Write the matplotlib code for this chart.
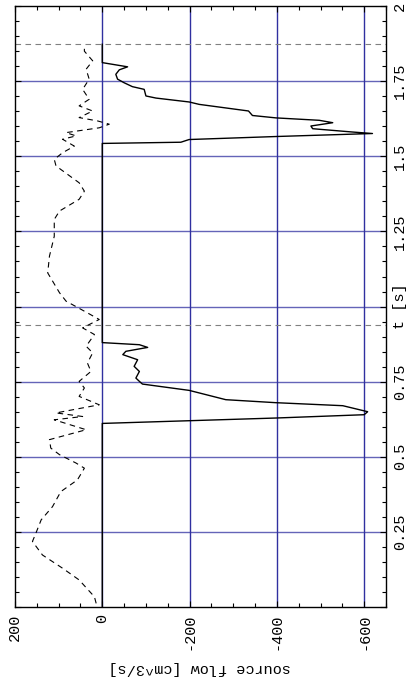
import numpy as np
import matplotlib
matplotlib.use('Agg')
import matplotlib.pyplot as plt

GRID = '#3030a0'
plt.rcParams['font.family'] = ['Liberation Mono', 'DejaVu Sans Mono']
plt.rcParams['axes.unicode_minus'] = False

# ── data: time [s] / source flow [cm^3/s] ────────────────────────────────────
# solid trace: outflow pulses (negative), zero in between
t_solid = [0.0, 0.611, 0.620, 0.629, 0.640, 0.650, 0.670, 0.680, 0.690, 0.707,
           0.721, 0.742, 0.751, 0.762, 0.784, 0.801, 0.823, 0.840, 0.851, 0.864,
           0.873, 0.880, 1.543, 1.547, 1.556, 1.566, 1.576, 1.581, 1.592, 1.601,
           1.612, 1.620, 1.628, 1.636, 1.651, 1.673, 1.681, 1.694, 1.701, 1.723,
           1.732, 1.745, 1.757, 1.773, 1.788, 1.798, 1.812, 1.873]
q_solid = [0, 0, -199, -398, -600, -608, -551, -398, -283, -237,
           -199, -92, -85, -77, -85, -73, -81, -47, -54, -104,
           -85, 0, 0, -180, -199, -398, -619, -573, -482, -478,
           -528, -497, -398, -344, -335, -222, -199, -123, -100, -96,
           -69, -50, -35, -31, -39, -58, 0, 0]

# dashed trace: inflow
t_dash = [0.012, 0.034, 0.090, 0.129, 0.173, 0.218, 0.246, 0.290, 0.334, 0.384,
          0.423, 0.462, 0.479, 0.507, 0.529, 0.557, 0.590, 0.623, 0.634, 0.646,
          0.673, 0.701, 0.729, 0.751, 0.784, 0.812, 0.846, 0.868, 0.907, 0.929,
          0.957, 0.979, 1.018, 1.046, 1.112, 1.168, 1.234, 1.290, 1.318, 1.357,
          1.384, 1.412, 1.468, 1.490, 1.512, 1.534, 1.557, 1.568, 1.579, 1.595,
          1.607, 1.618, 1.629, 1.651, 1.668, 1.690, 1.723, 1.757, 1.790, 1.818,
          1.850, 1.868]
q_dash = [14, 18, 53, 91, 137, 160, 152, 140, 114, 95,
          57, 41, 60, 98, 118, 121, 37, 110, 45, 106,
          7, 53, 41, 53, 26, 34, 22, 37, 18, 45,
          7, 34, 83, 98, 125, 121, 110, 110, 98, 53,
          41, 53, 106, 110, 91, 64, 91, 60, 83, 7,
          -16, 11, 53, 22, 53, 30, 45, 30, 37, 22,
          41, 41]

# cycle ends
t_marks = [0.937, 1.873]

q_ticks = [200, 0, -200, -400, -600]
q_labels = ['200', '0', '-200', '-400', '-600']
t_ticks = [0.0, 0.25, 0.5, 0.75, 1.0, 1.25, 1.5, 1.75, 2.0]
t_labels = ['', '0.25', '0.5', '0.75', 't [s]', '1.25', '1.5', '1.75', '2']

# ── figure ───────────────────────────────────────────────────────────────────
fig = plt.figure(figsize=(4.15, 6.82), dpi=100)
ax = fig.add_axes([0.0361, 0.110, 0.894, 0.881])

ax.set_xlim(200, -650)
ax.set_ylim(0, 2)

for q in [0, -200, -400, -600]:
    ax.axvline(q, color=GRID, lw=1.0, zorder=1)
for t in t_ticks[1:-1]:
    ax.axhline(t, color=GRID, lw=1.0, alpha=0.75, zorder=1)
for t in t_marks:
    ax.axhline(t, color='#808080', lw=0.8, dashes=(5, 4), zorder=2)

ax.plot(q_solid, t_solid, color='black', lw=1.0, zorder=3)
ax.plot(q_dash, t_dash, color='black', lw=0.8, dashes=(5, 4), zorder=3)

ax.set_xticks(q_ticks)
ax.set_xticklabels(q_labels, rotation=90, fontsize=11)
ax.set_xticks(np.arange(-650, 201, 50), minor=True)
ax.set_yticks(t_ticks)
ax.set_yticklabels(t_labels, rotation=90, fontsize=11, va='center')
ax.set_yticks(np.arange(0, 2.001, 0.05), minor=True)

ax.tick_params(which='both', direction='in', top=True, right=True,
               left=True, bottom=True, labelleft=False, labelright=True,
               width=0.8, pad=5)
ax.tick_params(which='major', length=4)
ax.tick_params(which='minor', length=3)
for s in ax.spines.values():
    s.set_linewidth(1.0)

fig.text(0.482, 0.021, 'source flow [cm^3/s]', rotation=180,
         ha='center', va='center', fontsize=11)

plt.savefig('out.png', dpi=100)
plt.close()
